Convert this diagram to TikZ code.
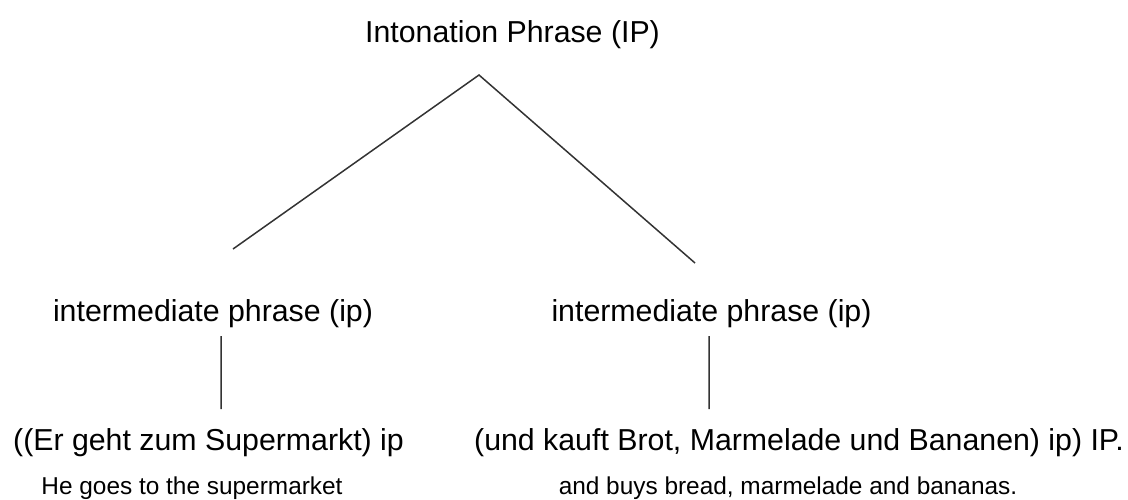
\documentclass[tikz,border=0pt]{standalone}
\usepackage{fontspec}
\setmainfont{Liberation Sans}
\usepackage{tikz}
\usetikzlibrary{positioning}

\begin{document}
\begin{tikzpicture}[x=0.5pt,y=-0.5pt,inner sep=0pt,
	label big/.style={anchor=base,font=\fontsize{15.15}{18}\selectfont},
	label small/.style={anchor=base,font=\fontsize{12.2}{15}\selectfont},
	branch/.style={draw=black!80,line width=0.75pt}]
	\useasboundingbox (0,0) rectangle (1128,499);

	\node[label big] (IP) at (512.5,42) {Intonation Phrase (IP)};
	\node[label big] (ip_L) at (213,321) {intermediate phrase (ip)};
	\node[label big] (ip_R) at (711.5,321) {intermediate phrase (ip)};
	\node[label big] (de_L) at (208.5,450) {((Er geht zum Supermarkt) ip};
	\node[label big] (de_R) at (799,450) {(und kauft Brot, Marmelade und Bananen) ip) IP.};
	\node[label small] (en_L) at (192,494) {He goes to the supermarket};
	\node[label small] (en_R) at (788,494) {and buys bread, marmelade and bananas.};

	\coordinate (apex) at (479,75);
	\coordinate (end_L) at (233,249);
	\coordinate (end_R) at (695,263);
	\coordinate (top_L) at (221,336);
	\coordinate (bot_L) at (221,409);
	\coordinate (top_R) at (709,336);
	\coordinate (bot_R) at (709,409);

	\path[branch]
	(end_L) -- (apex) -- (end_R)
	(top_L) -- (bot_L)
	(top_R) -- (bot_R);
\end{tikzpicture}
\end{document}
